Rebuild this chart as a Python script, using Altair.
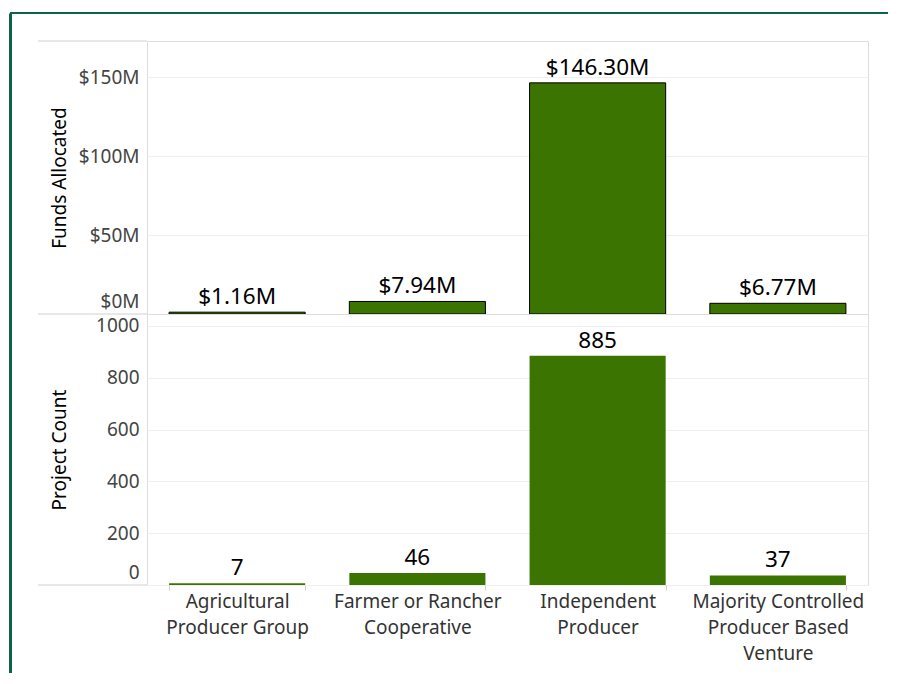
import altair as alt
import pandas as pd

categories = ["Agricultural Producer Group", "Farmer or Rancher Cooperative",
              "Independent Producer", "Majority Controlled Producer Based Venture"]
label_lines = [["Agricultural", "Producer Group"],
               ["Farmer or Rancher", "Cooperative"],
               ["Independent", "Producer"],
               ["Majority Controlled", "Producer Based", "Venture"]]
funds_m = [1.16, 7.94, 146.30, 6.77]
counts = [7, 46, 885, 37]
funds_ticks = [0, 50, 100, 150]
count_ticks = [0, 200, 400, 600, 800, 1000]

FONT = "Noto Sans"
GREEN = "#3b7400"
GRAY = "#d0d0d0"
GRID = "#efefef"
FRAME = "#11604a"
W, H1, H2 = 721, 273, 271

df = pd.DataFrame({"category": categories, "funds": funds_m, "count": counts})
df["funds_label"] = ["$" + f"{v:.2f}" + "M" for v in funds_m]

expr = ""
for c, lines in zip(categories, label_lines):
    expr += "datum.value == '" + c + "' ? [" + ",".join("'" + l + "'" for l in lines) + "] : "
expr += "datum.value"

one = pd.DataFrame({"k": [0]})


def yaxis(title, values, labelExpr, h):
    kw = dict(values=values, title=title, grid=True, gridColor=GRID, ticks=False, domain=False,
              labelFont=FONT, labelFontSize=19, labelColor="#444", labelPadding=8,
              labelFlush=True, labelFlushOffset=-3,
              titleFont=FONT, titleFontSize=19, titleFontWeight="normal", titleColor="#000",
              titleX=-88, titleY=h / 2, titleAngle=270, titleAlign="center", titleBaseline="middle")
    if labelExpr:
        kw["labelExpr"] = labelExpr
    else:
        kw["format"] = "d"
    return alt.Axis(**kw)


xscale = alt.Scale(paddingInner=0.245)

top_base = alt.Chart(df).encode(
    x=alt.X("category:N", sort=categories, scale=xscale, axis=None))
top_bars = top_base.mark_bar(color=GREEN, stroke="black", strokeWidth=1).encode(
    y=alt.Y("funds:Q", scale=alt.Scale(domain=[0, 172.8], nice=False, zero=True),
            axis=yaxis("Funds Allocated", funds_ticks, "'$' + datum.value + 'M'", H1)))
top_text = top_base.mark_text(dy=-8, fontSize=22.5, font=FONT, color="black",
                              baseline="alphabetic").encode(
    y=alt.Y("funds:Q"), text="funds_label:N")
ext_top = alt.Chart(one).mark_rule(color=GRAY, strokeWidth=1).encode(
    x=alt.value(-109), x2=alt.value(0), y=alt.value(0))
ext_mid = alt.Chart(one).mark_rule(color=GRAY, strokeWidth=1).encode(
    x=alt.value(-109), x2=alt.value(0), y=alt.value(H1))
frame_left = alt.Chart(one).mark_rule(color=FRAME, strokeWidth=3).encode(
    x=alt.value(-136.5), y=alt.value(-27.5), y2=alt.value(632))
frame_top = alt.Chart(one).mark_rule(color=FRAME, strokeWidth=2).encode(
    x=alt.value(-137), x2=alt.value(741), y=alt.value(-28))

top = alt.layer(top_bars, top_text, ext_top, ext_mid, frame_left, frame_top).properties(
    width=W, height=H1)

bot_base = alt.Chart(df).encode(
    x=alt.X("category:N", sort=categories, scale=xscale,
            axis=alt.Axis(title=None, labelExpr=expr, labelAngle=0, tickBand="extent",
                          tickSize=5, tickColor=GRAY, domain=False, labelFont=FONT,
                          labelFontSize=19, labelLineHeight=26, labelColor="#333",
                          labelPadding=2, labelLimit=300, labelBaseline="top")))
bot_bars = bot_base.mark_bar(color=GREEN).encode(
    y=alt.Y("count:Q", scale=alt.Scale(domain=[0, 1046], nice=False),
            axis=yaxis("Project Count", count_ticks, None, H2)))
bot_text = bot_base.mark_text(dy=-8, fontSize=22.5, font=FONT, color="black",
                              baseline="alphabetic").encode(
    y=alt.Y("count:Q"), text="count:Q")
ext_bot = alt.Chart(one).mark_rule(color=GRAY, strokeWidth=1).encode(
    x=alt.value(-109), x2=alt.value(0), y=alt.value(H2))

bottom = alt.layer(bot_bars, bot_text, ext_bot).properties(width=W, height=H2)

chart = alt.vconcat(top, bottom, spacing=0, bounds="flush").properties(
    padding={"left": 0, "top": 3, "right": 0, "bottom": 0}
).configure_view(stroke=GRAY, strokeWidth=1).configure(background="white")

chart.save("out.html", embed_options={"renderer": "svg", "actions": False})
